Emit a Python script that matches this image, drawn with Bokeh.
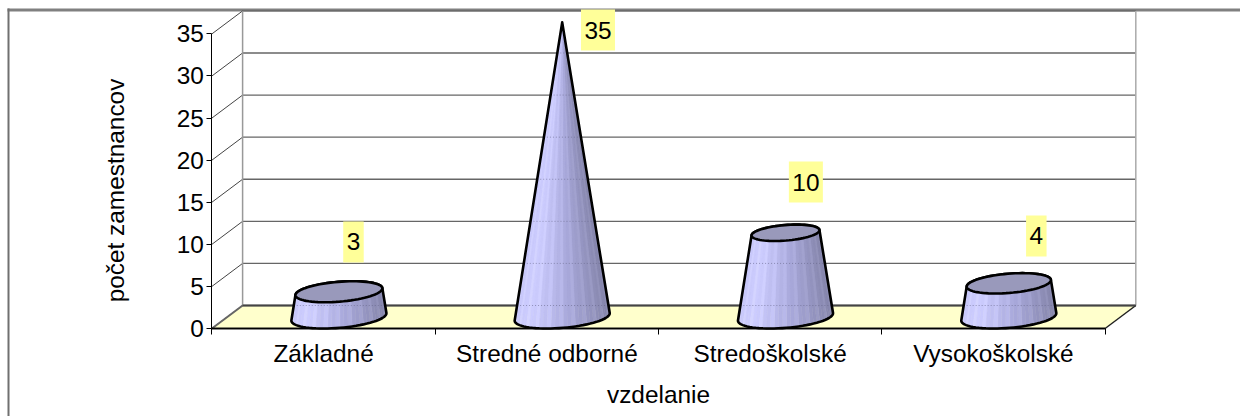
import numpy as np
from bokeh.plotting import figure
from bokeh.models import Range1d, FixedTicker
from bokeh.core.properties import value as _value
from bokeh.embed import file_html
from bokeh.resources import INLINE

categories = ["Základné", "Stredné odborné", "Stredoškolské", "Vysokoškolské"]
values = [3, 35, 10, 4]
y_ticks = [0, 5, 10, 15, 20, 25, 30, 35]
y_max = 35
label_x = [0.634, 1.729, 2.66, 3.692]
label_y = [10.28, 35.46, 17.4, 10.99]
y_title = "počet zamestnancov"
x_title = "vzdelanie"

FONT = "Liberation Sans"
FS = "24.4px"
W, H = 1240, 416
PX_X, PX_Y = 223.3, 8.417      # pixels per category / per value unit
X0, Y0 = 211.4, 328            # where the axes cross, from the top-left of the figure
DX = 30.7 / PX_X               # depth of the 3-D box, in data units
DY = 23.0 / PX_Y
RADIUS = 45.0 / PX_X

x_start, x_end = -X0 / PX_X, (W - X0) / PX_X
y_start, y_end = -(H - Y0) / PX_Y, Y0 / PX_Y

p = figure(width=W, height=H, output_backend="svg", toolbar_location=None,
           min_border=0,
           x_range=Range1d(x_start, x_end),
           y_range=Range1d(y_start, y_end))
p.grid.visible = False
p.outline_line_color = None
p.background_fill_color = "white"

# chart-area border: only top and left are visible in the crop
bw_x, bw_y = 2 / PX_X, 3 / PX_Y
top_edge = y_end - 8 / PX_Y
left_edge = x_start + 7 / PX_X
p.quad(left=[left_edge], right=[x_end], top=[top_edge], bottom=[top_edge - bw_y], fill_color="#808080", line_color=None)
p.quad(left=[left_edge], right=[left_edge + bw_x], top=[top_edge], bottom=[y_start], fill_color="#707070", line_color=None)

# floor and walls
p.patch([0, DX, 4 + DX, 4], [0, DY, DY, 0], fill_color="#ffffcc", line_color=None)
for v in y_ticks:
    p.line([DX, 4 + DX], [v + DY, v + DY], line_color="#666666", line_width=1.4)
    p.line([0, DX], [v, v + DY], line_color="#444444", line_width=1.0)
p.line([DX, DX], [DY, y_max + DY], line_color="#999999", line_width=1.5)
p.line([4 + DX, 4 + DX], [DY, y_max + DY], line_color="#aaaaaa", line_width=1.5)
p.line([0, DX], [0, DY], line_color="#666666", line_width=2)
p.line([4, 4 + DX], [0, DY], line_color="#222222", line_width=1.5)
p.line([DX, 4 + DX], [DY, DY], line_color="#444444", line_width=2)
p.line([0, 4], [0, 0], line_color="#111111", line_width=2)


def ring(cx, cy, scale, t):
    """Oblique projection of a circle lying on a horizontal plane."""
    return (cx + scale * (RADIUS * np.cos(t) + DX / 2 * np.sin(t)),
            cy + scale * (DY / 2 * np.sin(t)))


def hull(pts):
    pts = sorted(set(pts))
    def half(seq):
        out = []
        for q in seq:
            while len(out) > 1 and ((out[-1][0] - out[-2][0]) * PX_X * (q[1] - out[-2][1]) * PX_Y
                                    - (out[-1][1] - out[-2][1]) * PX_Y * (q[0] - out[-2][0]) * PX_X) <= 0:
                out.pop()
            out.append(q)
        return out[:-1]
    return half(pts) + half(pts[::-1])


def crossing(poly, level):
    """Left and right x of a closed convex outline at a given height."""
    xs = []
    for (ax, ay), (bx_, by_) in zip(poly, poly[1:] + poly[:1]):
        if (ay - level) * (by_ - level) < 0:
            xs.append(ax + (level - ay) / (by_ - ay) * (bx_ - ax))
    return (min(xs), max(xs)) if len(xs) >= 2 else None


def shade(f, light=0):
    stops = [(0.0, (200, 200, 250)), (0.18, (205, 205, 255)), (0.55, (170, 170, 220)), (1.0, (132, 132, 170))]
    f = min(max(f, 0), 1)
    for (a, ca), (b, cb) in zip(stops, stops[1:]):
        if f <= b:
            k = (f - a) / (b - a)
            return "#%02x%02x%02x" % tuple(min(255, int(x + (y - x) * k) + light) for x, y in zip(ca, cb))
    return "#8484aa"


for i, v in enumerate(values):
    cx = i + 0.5 + DX / 2
    base_y = DY / 2
    top_y = v + DY / 2
    s = 1 - v / y_max
    t = np.linspace(0, 2 * np.pi, 73)
    bx, by = ring(cx, base_y, 1, t)
    tx, ty = ring(cx, top_y, s, t)
    xmin, xmax = bx.min(), bx.max()
    # body: strips, back ones first, with the faint banding of the original
    order = sorted(range(72), key=lambda j: -np.sin((t[j] + t[j + 1]) / 2))
    for j in order:
        mx = (bx[j] + bx[j + 1]) / 2
        c = shade((mx - xmin) / (xmax - xmin), light=9 if j % 3 == 0 else 0)
        p.patch([bx[j], bx[j + 1], tx[j + 1], tx[j]], [by[j], by[j + 1], ty[j + 1], ty[j]],
                fill_color=c, line_color=c, line_width=0.6)
    h = hull(list(zip(bx.tolist(), by.tolist())) + list(zip(tx.tolist(), ty.tolist())))
    # wall gridlines faintly showing through the body
    for g in y_ticks:
        span = crossing(h, g + DY)
        if span:
            p.line(list(span), [g + DY, g + DY], line_color="#666688", line_width=1, line_alpha=0.6, line_dash="1 2")
    # silhouette
    hx, hy = zip(*h)
    p.patch(list(hx), list(hy), fill_color=None, line_color="#000000", line_width=2.6, line_join="round")
    if s > 0:
        p.patch(tx.tolist(), ty.tolist(), fill_color="#9999bb", line_color="#000000", line_width=2.6)

# data labels
widths = [len(str(v)) * 13.5 + 7 for v in values]
p.rect(label_x, label_y, width=widths, height=41, width_units="screen", height_units="screen",
       fill_color="#ffff99", line_color=None)
p.text(label_x, label_y, text=[str(v) for v in values], text_font=_value(FONT), text_font_size=_value(FS),
       text_align="center", text_baseline="middle", text_color="black")

# axes sit inside the frame, at the corner of the 3-D box
yaxis = p.yaxis[0]
yaxis.fixed_location = 0
yaxis.ticker = FixedTicker(ticks=y_ticks)
yaxis.bounds = (0, y_max)
yaxis.axis_line_color = "black"
yaxis.major_tick_line_color = "black"
yaxis.major_tick_out = 5
yaxis.major_tick_in = 0
yaxis.minor_tick_line_color = None
yaxis.major_label_text_font = FONT
yaxis.major_label_text_font_size = FS
yaxis.major_label_text_color = "black"
yaxis.major_label_standoff = 3

xaxis = p.xaxis[0]
xaxis.fixed_location = 0
xaxis.ticker = FixedTicker(ticks=[i + 0.5 for i in range(4)], minor_ticks=list(range(5)))
xaxis.major_label_overrides = {i + 0.5: c for i, c in enumerate(categories)}
xaxis.bounds = (0, 4)
xaxis.axis_line_color = "black"
xaxis.major_tick_line_color = None
xaxis.minor_tick_line_color = "black"
xaxis.minor_tick_out = 6
xaxis.minor_tick_in = 0
xaxis.major_label_text_font = FONT
xaxis.major_label_text_font_size = FS
xaxis.major_label_text_color = "black"
xaxis.major_label_standoff = 5

p.text([(115 - X0) / PX_X], [(Y0 - 190) / PX_Y], text=[y_title], angle=np.pi / 2,
       text_font=_value(FONT), text_font_size=_value(FS), text_color="black",
       text_align="center", text_baseline="middle")
p.text([(658 - X0) / PX_X], [(Y0 - 394) / PX_Y], text=[x_title],
       text_font=_value(FONT), text_font_size=_value(FS), text_color="black",
       text_align="center", text_baseline="middle")

open("out.html", "w").write(file_html(p, INLINE))
